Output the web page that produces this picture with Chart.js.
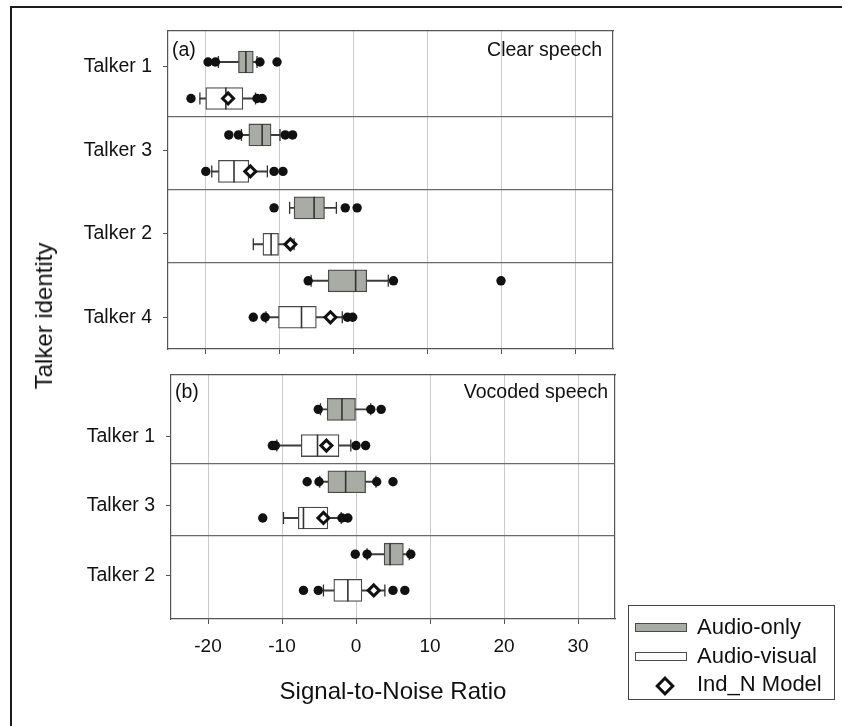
<!DOCTYPE html>
<html>
<head>
<meta charset="utf-8">
<script src="https://cdn.jsdelivr.net/npm/chart.js@4.4.1/dist/chart.umd.min.js"></script>
<style>
  body { margin: 0; background: #fff; }
  #fig { position: relative; width: 845px; height: 726px; overflow: hidden; font-family: "Liberation Sans", Arial, sans-serif; color: #111; }
  #fig canvas { position: absolute; left: 0; }
  .frame { position: absolute; left: 10px; top: 6px; width: 830px; height: 740px; border-top: 2px solid #1c1c1c; border-left: 2px solid #1c1c1c; }
  .ylabel { position: absolute; left: 44px; top: 316px; transform: translate(-50%, -50%) rotate(-90deg); font-size: 24px; white-space: nowrap; }
  .legend { position: absolute; left: 628px; top: 605px; width: 207px; height: 95px; border: 1.5px solid #444; box-sizing: border-box; }
  .legend .row { position: absolute; left: 0; height: 26px; font-size: 22px; line-height: 26px; }
  .legend .sw { position: absolute; left: 6px; top: 9px; width: 52px; height: 9px; box-sizing: border-box; border: 1.3px solid #4a4a4a; }
  .legend .dm { position: absolute; left: 29px; top: 8px; width: 8px; height: 8px; border: 3px solid #111; background: #fff; transform: rotate(45deg); }
  .legend .tx { position: absolute; left: 68px; top: 0; white-space: nowrap; }
</style>
</head>
<body>
<div id="fig">
  <div class="frame"></div>
  <canvas id="clear" width="845" height="362" style="top:0"></canvas>
  <canvas id="vocoded" width="845" height="364" style="top:362px"></canvas>
  <div class="ylabel">Talker identity</div>
  <div class="legend">
    <div class="row" style="top:8px"><div class="sw" style="background:#a8aca4"></div><div class="tx">Audio-only</div></div>
    <div class="row" style="top:37px"><div class="sw" style="background:#fff"></div><div class="tx">Audio-visual</div></div>
    <div class="row" style="top:65px"><div class="dm"></div><div class="tx">Ind_N Model</div></div>
  </div>
</div>
<script>
// (a) clear speech
// boxes are [lower whisker, Q1, median, Q3, upper whisker]
const clearTalkers = ['Talker 1', 'Talker 3', 'Talker 2', 'Talker 4']
const clearTickPos = [1.13, 3.42, 5.71, 8.0]
const clearAudioOnly = [
  [-18.2, -15.5, -14.5, -13.5, -13.0],
  [-15.1, -14.1, -12.3, -11.1, -9.9],
  [-8.6, -8.0, -5.3, -3.9, -2.3],
  [-5.7, -3.4, 0.3, 1.8, 4.7]
]
const clearAudioOnlyOut = [
  [-19.6, -18.6, -12.6, -10.3],
  [-16.8, -15.5, -9.2, -8.2],
  [-10.7, -1.1, 0.5],
  [-6.1, 5.4, 19.9]
]
const clearAudioVisual = [
  [-20.7, -19.9, -17.2, -14.9, -13.2],
  [-19.1, -18.2, -16.1, -14.1, -11.6],
  [-13.5, -12.2, -11.1, -10.1, -8.0],
  [-11.8, -10.1, -7.0, -5.0, -1.5]
]
const clearAudioVisualOut = [
  [-21.9, -13.0, -12.3],
  [-19.9, -10.7, -9.5],
  [],
  [-13.5, -11.9, -0.8, -0.1]
]
const clearModel = [-16.9, -13.9, -8.5, -3.1]

// (b) vocoded speech
const vocodedTalkers = ['Talker 1', 'Talker 3', 'Talker 2']
const vocodedTickPos = [1.74, 3.65, 5.59]
const vocodedAudioOnly = [
  [-4.8, -3.9, -1.9, 0.0, 2.0],
  [-4.9, -3.8, -1.4, 1.3, 2.7],
  [1.5, 3.8, 4.6, 6.4, 7.2]
]
const vocodedAudioOnlyOut = [
  [-5.1, 2.0, 3.4],
  [-6.6, -5.0, 2.8, 5.0],
  [-0.1, 1.5, 7.4]
]
const vocodedAudioVisual = [
  [-10.7, -7.4, -5.2, -2.3, -0.7],
  [-9.8, -7.8, -7.1, -3.8, -2.0],
  [-4.4, -3.0, -1.1, 0.8, 3.9]
]
const vocodedAudioVisualOut = [
  [-11.3, -10.9, 0.0, 1.3],
  [-12.6, -1.9, -1.1],
  [-7.1, -5.1, 5.0, 6.6]
]
const vocodedModel = [-4.0, -4.4, 2.4]

const snrTicks = [-20, -10, 0, 10, 20, 30]

// panel letter + condition name inside the plot area
const panelText = {
  id: 'panelText',
  afterDraw(chart, args, opts) {
    const {ctx, chartArea} = chart
    ctx.save()
    ctx.font = '19.5px "Liberation Sans", Arial, sans-serif'
    ctx.fillStyle = '#111'
    ctx.textBaseline = 'alphabetic'
    ctx.textAlign = 'left'
    ctx.fillText(opts.tag, chartArea.left + 4, chartArea.top + opts.baseline)
    ctx.textAlign = 'right'
    ctx.fillText(opts.title, chartArea.right - opts.right, chartArea.top + opts.baseline)
    ctx.restore()
  }
}

// keep the label overhang from shrinking the plot area
function noPad(s) {
  s.paddingTop = 0
  s.paddingBottom = 0
  s.paddingLeft = 0
  s.paddingRight = 0
}

function boxPanel(id, p) {
  // audio-only rows at 1,3,5.. and audio-visual rows at 2,4,6..
  const rows = []
  p.ao.forEach((b, i) => rows.push({b, y: 2 * i + 1, out: p.aoOut[i]}))
  p.av.forEach((b, i) => rows.push({b, y: 2 * i + 2, out: p.avOut[i]}))
  const dividers = p.talkers.slice(1).map((t, i) => 2 * i + 2.5)

  const datasets = [
    {type: 'bar', data: rows.map(r => ({y: r.y, x: [r.b[0], r.b[4]]})),
      backgroundColor: '#3c3c3c', barThickness: 1.3, grouped: false, order: 6},
    {type: 'bar', data: p.ao.map((b, i) => ({y: 2 * i + 1, x: [b[1], b[3]]})),
      backgroundColor: '#a8aca4', borderColor: '#4a4a4a', borderWidth: 1.3,
      borderSkipped: false, barThickness: 22, grouped: false, order: 5},
    {type: 'bar', data: p.av.map((b, i) => ({y: 2 * i + 2, x: [b[1], b[3]]})),
      backgroundColor: '#ffffff', borderColor: '#4a4a4a', borderWidth: 1.3,
      borderSkipped: false, barThickness: 22, grouped: false, order: 5},
    {type: 'scatter', data: rows.map(r => ({x: r.b[2], y: r.y})),
      pointStyle: 'line', pointRotation: 90, pointRadius: 11,
      pointBorderColor: '#333', pointBorderWidth: 1.6, order: 4},
    {type: 'scatter', data: rows.flatMap(r => [{x: r.b[0], y: r.y}, {x: r.b[4], y: r.y}]),
      pointStyle: 'line', pointRotation: 90, pointRadius: 6,
      pointBorderColor: '#333', pointBorderWidth: 1.3, order: 3},
    {type: 'scatter', data: rows.flatMap(r => r.out.map(v => ({x: v, y: r.y}))),
      pointStyle: 'circle', pointRadius: 4.7, pointBorderWidth: 0,
      pointBackgroundColor: '#111', order: 2},
    {type: 'scatter', data: p.model.map((v, i) => ({x: v, y: 2 * i + 2})),
      pointStyle: 'rectRot', pointRadius: 5.5, pointBorderWidth: 3,
      pointBackgroundColor: '#fff', pointBorderColor: '#111', order: 1}
  ]

  const tickFont = {family: '"Liberation Sans", Arial, sans-serif', size: 19}
  return new Chart(document.getElementById(id), {
    type: 'bar',
    data: {datasets},
    options: {
      indexAxis: 'y',
      responsive: false,
      animation: false,
      events: [],
      layout: {padding: p.padding},
      plugins: {legend: {display: false}, tooltip: {enabled: false}, panelText: p.text},
      scales: {
        x: {
          type: 'linear', position: 'bottom', min: -25, max: 35,
          afterBuildTicks: s => { s.ticks = snrTicks.map(v => ({value: v})) },
          ticks: {display: p.showX, color: '#111', font: tickFont, padding: 11},
          grid: {color: '#cbcbcb', lineWidth: 1, tickLength: 5, tickColor: '#555'},
          border: {color: '#555', width: 1.2},
          title: {display: p.showX, text: 'Signal-to-Noise Ratio', color: '#111',
            font: {family: '"Liberation Sans", Arial, sans-serif', size: 24}, padding: 0},
          afterFit: s => { s.height = p.xHeight; noPad(s) }
        },
        xTop: {
          type: 'linear', position: 'top', min: -25, max: 35,
          ticks: {display: false}, grid: {drawOnChartArea: false, drawTicks: false},
          border: {color: '#555', width: 1.2},
          afterFit: s => { s.height = 0; noPad(s) }
        },
        y: {
          type: 'linear', position: 'left', min: p.yMin, max: p.yMax, reverse: true, offset: false,
          afterBuildTicks: s => { s.ticks = p.tickPos.map(v => ({value: v})) },
          ticks: {callback: (v, i) => p.talkers[i], color: '#111',
            font: {family: '"Liberation Sans", Arial, sans-serif', size: 19.5}, padding: 11, autoSkip: false},
          grid: {drawOnChartArea: false, offset: false, tickLength: 5, tickColor: '#555'},
          border: {color: '#555', width: 1.2},
          afterFit: s => { s.width = p.yWidth; noPad(s) }
        },
        yDiv: {
          type: 'linear', position: 'right', min: p.yMin, max: p.yMax, reverse: true, offset: false,
          afterBuildTicks: s => { s.ticks = dividers.map(v => ({value: v})) },
          ticks: {display: false},
          grid: {color: '#6a6a6a', lineWidth: 1.2, drawTicks: false, offset: false},
          border: {color: '#555', width: 1.2},
          afterFit: s => { s.width = 0; noPad(s) }
        }
      }
    },
    plugins: [panelText]
  })
}

boxPanel('clear', {
  talkers: clearTalkers, tickPos: clearTickPos,
  ao: clearAudioOnly, aoOut: clearAudioOnlyOut,
  av: clearAudioVisual, avOut: clearAudioVisualOut, model: clearModel,
  yMin: 0.15, yMax: 8.87, yWidth: 168, xHeight: 13, showX: false,
  padding: {top: 31, left: 0, right: 232, bottom: 0},
  text: {tag: '(a)', title: 'Clear speech', baseline: 25, right: 11}
})

boxPanel('vocoded', {
  talkers: vocodedTalkers, tickPos: vocodedTickPos,
  ao: vocodedAudioOnly, aoOut: vocodedAudioOnlyOut,
  av: vocodedAudioVisual, avOut: vocodedAudioVisualOut, model: vocodedModel,
  yMin: 0.04, yMax: 6.79, yWidth: 171, xHeight: 88, showX: true,
  padding: {top: 10, left: 0, right: 230, bottom: 19},
  text: {tag: '(b)', title: 'Vocoded speech', baseline: 23, right: 7}
})
</script>
</body>
</html>
